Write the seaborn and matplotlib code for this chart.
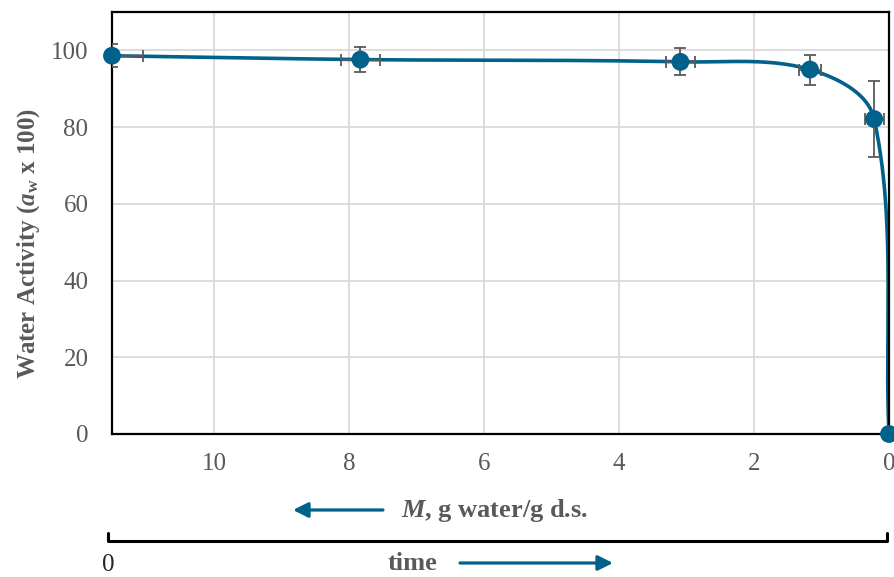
import numpy as np
import pandas as pd
import matplotlib
matplotlib.use("Agg")
import matplotlib.pyplot as plt
import seaborn as sns
from matplotlib.lines import Line2D
from matplotlib.patches import FancyArrowPatch

# ---- data ----
moisture = [11.51, 7.83, 3.09, 1.17, 0.22, 0.0]        # M, g water / g d.s.
water_activity = [98.6, 97.6, 97.0, 95.0, 82.1, 0.0]   # a_w x 100
aw_err = [3.0, 3.3, 3.5, 3.9, 9.9, 0.0]
m_err = [0.46, 0.29, 0.22, 0.16, 0.14, 0.0]
y_ticks = [0, 20, 40, 60, 80, 100]
x_ticks = [10, 8, 6, 4, 2, 0]

BLUE = "#00618a"
GRAY = "#595959"

sns.set_style("white")
plt.rcParams["font.family"] = ["Liberation Serif", "DejaVu Serif"]
plt.rcParams["mathtext.fontset"] = "custom"
plt.rcParams["mathtext.rm"] = "Liberation Serif"
plt.rcParams["mathtext.it"] = "Liberation Serif:italic"
plt.rcParams["mathtext.bf"] = "Liberation Serif:bold"
plt.rcParams["mathtext.bfit"] = "Liberation Serif:bold:italic"

W, H = 894, 577
fig = plt.figure(figsize=(W / 100, H / 100), dpi=100)


def fx(px):
    return px / W


def fy(py):
    return 1 - py / H


ax = fig.add_axes([fx(112), fy(434), (889 - 112) / W, (434 - 12) / H])
ax.set_xlim(11.51, 0)
ax.set_ylim(0, 110)
ax.set_xticks(x_ticks)
ax.set_yticks(y_ticks)
ax.grid(True, color="#d9d9d9", lw=1.3)
ax.set_axisbelow(True)
for s in ax.spines.values():
    s.set_color("black")
    s.set_linewidth(1.6)
ax.tick_params(length=0, labelsize=18, labelcolor=GRAY)
ax.tick_params(axis="y", pad=17)
ax.tick_params(axis="x", pad=14)

df = pd.DataFrame({"M": moisture, "aw": water_activity})


# smoothed line (Excel-like Bezier smoothing in display space)
def smooth(px):
    n = len(px)
    tang = []
    for i in range(n):
        if i == 0:
            d = px[1] - px[0]
        elif i == n - 1:
            d = px[-1] - px[-2]
        else:
            d = px[i + 1] - px[i - 1]
        tang.append(d / np.linalg.norm(d))
    t = np.linspace(0, 1, 80)[1:]
    out = [px[0]]
    for i in range(n - 1):
        p0, p3 = px[i], px[i + 1]
        L = np.linalg.norm(p3 - p0) / 3
        p1 = p0 + tang[i] * L
        p2 = p3 - tang[i + 1] * L
        seg = (((1 - t) ** 3)[:, None] * p0 + (3 * (1 - t) ** 2 * t)[:, None] * p1
               + (3 * (1 - t) * t ** 2)[:, None] * p2 + (t ** 3)[:, None] * p3)
        out.extend(seg)
    return np.array(out)


pts = ax.transData.transform(np.column_stack([df["M"], df["aw"]]))
curve = ax.transData.inverted().transform(smooth(pts))
ax.plot(curve[:, 0], curve[:, 1], color=BLUE, lw=2.6, zorder=2, solid_capstyle="round")

ax.errorbar(df["M"], df["aw"], yerr=aw_err, xerr=m_err, fmt="none", ecolor=GRAY,
            elinewidth=1.3, capsize=4.5, capthick=1.3, zorder=3)

sns.scatterplot(data=df, x="M", y="aw", ax=ax, s=165, color=BLUE, edgecolor="none",
                zorder=4, clip_on=False, legend=False)
ax.set_xlabel("")
ax.set_ylabel("")

# y label
fig.text(fx(29), fy(243), r"Water Activity ($\mathbfit{a}_{\mathbf{w}}$ x 100)", rotation=90,
         ha="center", va="center", fontsize=18, fontweight="bold", color=GRAY)

# M label with arrow
fig.text(fx(401), fy(511), r"$\mathbfit{M}$, g water/g d.s.", ha="left", va="center",
         fontsize=19, fontweight="bold", color=GRAY)
fig.add_artist(FancyArrowPatch((fx(383), fy(510)), (fx(293), fy(510)), transform=fig.transFigure,
                               arrowstyle="-|>,head_length=0.9,head_width=0.45", mutation_scale=10,
                               color=BLUE, lw=2.3, shrinkA=0, shrinkB=0))

# time bracket
fig.add_artist(Line2D([fx(108), fx(108), fx(887), fx(887)], [fy(533), fy(541), fy(541), fy(533)],
                      transform=fig.transFigure, color="black", lw=2.2))
fig.text(fx(108), fy(565), "0", ha="center", va="center", fontsize=18, color="#262626")
fig.text(fx(412), fy(563), "time", ha="center", va="center", fontsize=19, fontweight="bold",
         color=GRAY)
fig.add_artist(FancyArrowPatch((fx(460), fy(563)), (fx(613), fy(563)), transform=fig.transFigure,
                               arrowstyle="-|>,head_length=0.9,head_width=0.45", mutation_scale=10,
                               color=BLUE, lw=2.3, shrinkA=0, shrinkB=0))

fig.savefig("out.png", dpi=100)
